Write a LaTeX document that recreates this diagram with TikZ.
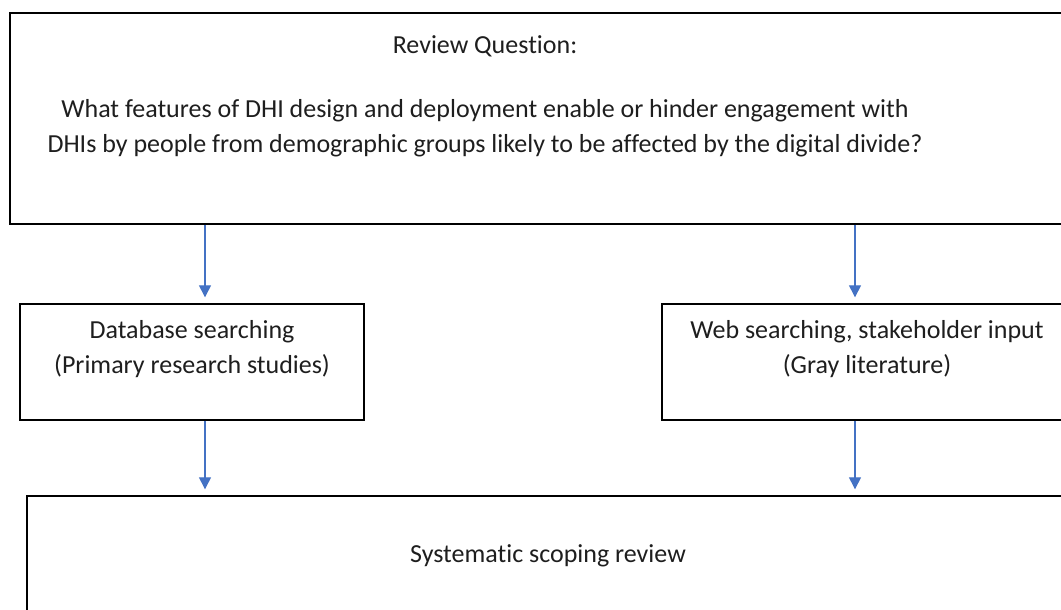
\documentclass[tikz,border=0pt]{standalone}
\usepackage{fontspec}
\setmainfont{Carlito}[Ligatures=NoCommon]
\usepackage{tikz}
\usetikzlibrary{positioning,arrows.meta}

\definecolor{arrowblue}{RGB}{68,114,196}
\definecolor{inkgray}{RGB}{30,30,30}

\begin{document}
\begin{tikzpicture}[x=1pt,y=1pt,
    box/.style={draw=black,line width=1.4pt,inner sep=0pt},
    txt/.style={text=inkgray,font=\fontsize{26}{35}\selectfont,align=center,inner sep=0pt},
    arr/.style={-{Triangle[width=12pt,length=12pt]},draw=arrowblue,line width=1.4pt,shorten >=6pt}]
  \useasboundingbox (0,0) rectangle (1061,610);
  \clip (0,0) rectangle (1061,610);
  % boxes
  \node[box,minimum width=1065pt,minimum height=211pt] (question) at (542.5,491.5) {};
  \node[box,minimum width=344pt,minimum height=116pt] (database) at (192,248) {};
  \node[box,minimum width=410pt,minimum height=116pt] (web) at (867,248) {};
  \node[box,minimum width=1043pt,minimum height=134pt] (review) at (548.5,47) {};
  % texts
  \node[txt] (qtitle) at (485,564) {Review Question:};
  \node[txt] (qtext) at (485,482) {What features of DHI design and deployment enable or hinder engagement with\\
    DHIs by people from demographic groups likely to be affected by the digital divide?};
  \node[txt] (dbtext) at (192,261) {Database searching\\(Primary research studies)};
  \node[txt] (webtext) at (867,261) {Web searching, stakeholder input\\(Gray literature)};
  \node[txt] (revtext) at (548,54) {Systematic scoping review};
  % arrows
  \draw[arr] ([xshift=13pt]database.north |- question.south) -- ([xshift=13pt]database.north);
  \draw[arr] ([xshift=-12pt]web.north |- question.south) -- ([xshift=-12pt]web.north);
  \draw[arr] ([xshift=13pt]database.south) -- ([xshift=13pt]database.south |- review.north);
  \draw[arr] ([xshift=-12pt]web.south) -- ([xshift=-12pt]web.south |- review.north);
\end{tikzpicture}
\end{document}
